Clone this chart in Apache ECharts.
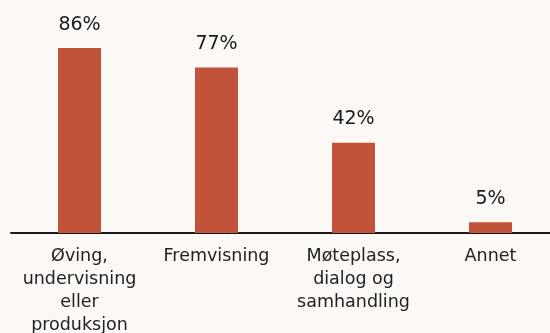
<!DOCTYPE html>
<html>
<head>
<meta charset="utf-8">
<script src="https://cdn.jsdelivr.net/npm/echarts@6/dist/echarts.min.js"></script>
<style>
  html, body { margin: 0; padding: 0; background: #fcf8f5; }
  #chart { width: 550px; height: 333px; }
</style>
</head>
<body>
<div id="chart"></div>
<script>
// Usage categories (line breaks as displayed under the axis)
const categories = [
  'Øving,\nundervisning\neller\nproduksjon',
  'Fremvisning',
  'Møteplass,\ndialog og\nsamhandling',
  'Annet'
];
// Share of respondents, percent
const values = [86, 77, 42, 5];

const FONT = '"DejaVu Sans", sans-serif';

const chart = echarts.init(document.getElementById('chart'), null, { renderer: 'canvas' });
chart.setOption({
  backgroundColor: '#fcf8f5',
  animation: false,
  grid: {
    left: 11, top: 18, width: 548, height: 215,
    containLabel: false,
    outerBoundsMode: 'none'
  },
  xAxis: {
    type: 'category',
    data: categories,
    axisLine: { show: true, lineStyle: { color: '#1a1a1a', width: 2 } },
    axisTick: { show: false },
    axisLabel: {
      interval: 0,
      margin: 12,
      color: '#222',
      fontFamily: FONT,
      fontSize: 17.5,
      lineHeight: 23,
      align: 'center',
      verticalAlign: 'top'
    }
  },
  yAxis: {
    type: 'value',
    min: 0,
    max: 100,
    show: false,
    splitLine: { show: false }
  },
  series: [{
    type: 'bar',
    data: values,
    barWidth: 43,
    itemStyle: { color: '#c0533a' },
    label: {
      show: true,
      position: 'top',
      distance: 14,
      formatter: '{c}%',
      color: '#1a1a1a',
      fontFamily: FONT,
      fontSize: 19
    }
  }]
});
</script>
</body>
</html>
